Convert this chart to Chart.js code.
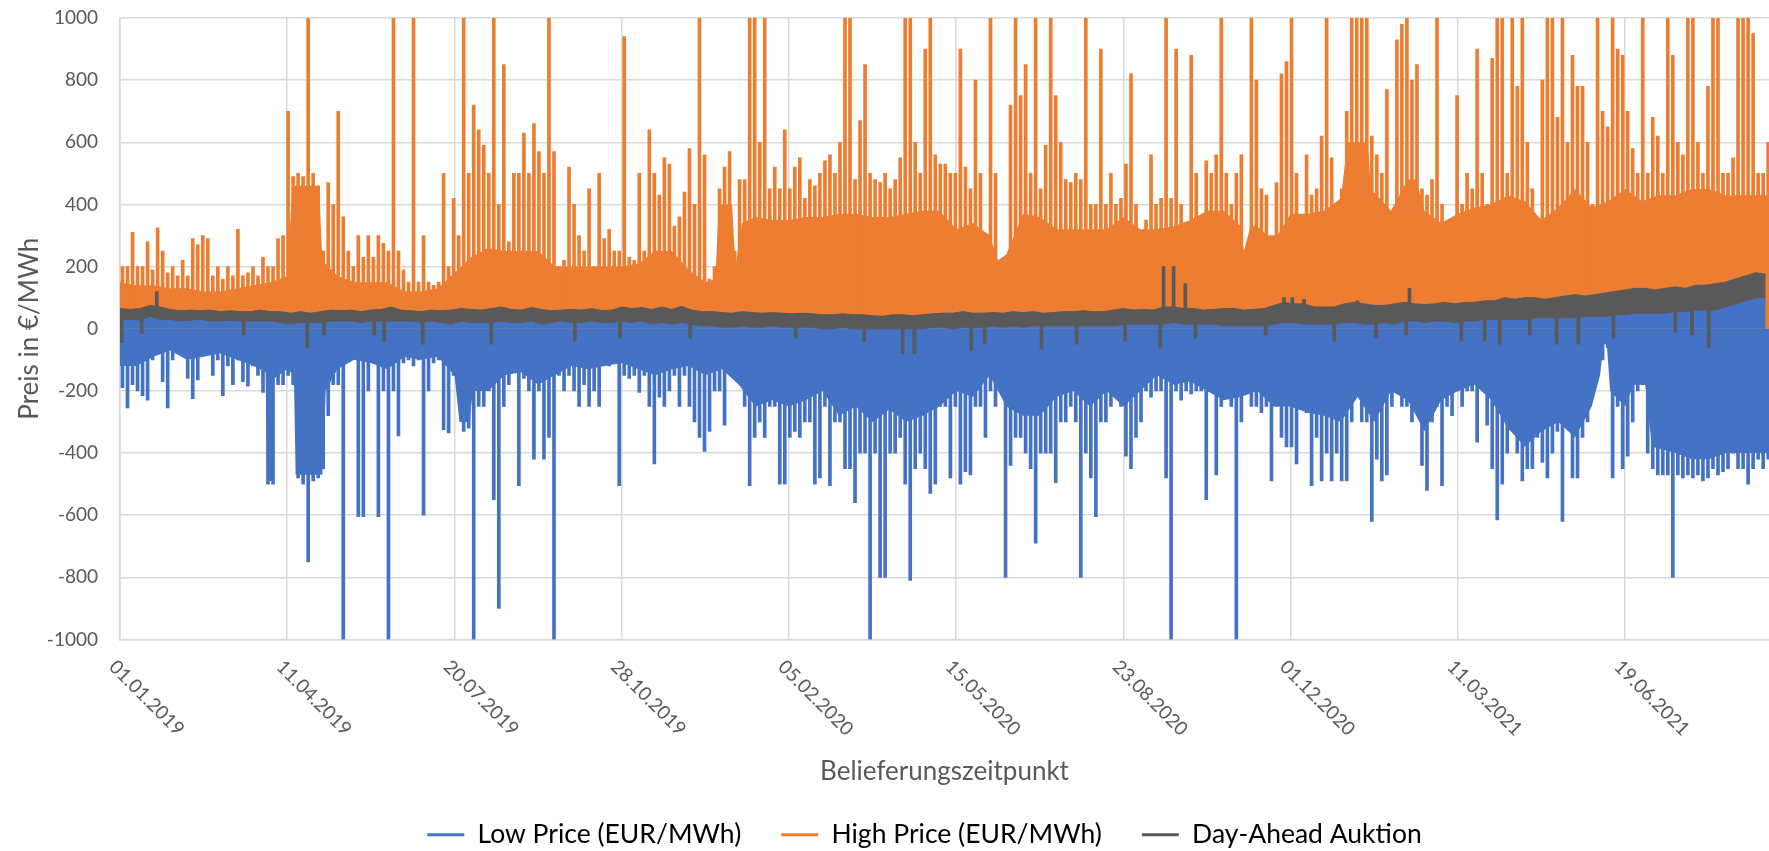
<!DOCTYPE html>
<html><head><meta charset="utf-8">
<script src="https://cdn.jsdelivr.net/npm/chart.js@4.4.1/dist/chart.umd.min.js"></script>
<style>html,body{margin:0;padding:0;background:#fff;}#wrap{width:1769px;height:851px;}</style>
</head><body><div id="wrap"><canvas id="c" width="1769" height="851"></canvas></div>
<script>
// ---- x axis (days since 01.01.2019) ----
const tickDays = [0, 100, 200, 300, 400, 500, 600, 700, 800, 900];
const tickLabels = ['01.01.2019','11.04.2019','20.07.2019','28.10.2019','05.02.2020','15.05.2020','23.08.2020','01.12.2020','11.03.2021','19.06.2021'];
const seriesNames = ['Low Price (EUR/MWh)', 'High Price (EUR/MWh)', 'Day-Ahead Auktion'];
const xTitle = 'Belieferungszeitpunkt';
const yTitle = 'Preis in €/MWh';

// sampling intervals of the bucket arrays below (days)
const SPIKE_STEP = 3, BAND_STEP = 6;

// High Price: maximum per 3-day bucket
const highSpikes = [
200,200,310,200,200,280,190,325,250,180,
200,170,220,170,290,270,300,290,170,200,
160,200,170,320,170,180,200,170,230,200,
200,290,300,700,490,500,490,1000,500,460,
250,470,400,700,360,250,200,300,230,300,
230,300,275,250,1000,250,190,150,1000,150,
300,150,140,150,500,200,420,300,1000,500,
720,640,590,500,1000,400,850,280,500,500,
630,500,660,570,500,1000,570,200,220,520,
400,300,250,450,200,500,290,320,250,250,
940,230,220,500,250,640,500,430,550,530,
330,360,440,580,400,1000,560,160,200,450,
520,570,250,480,480,1000,1000,600,1000,450,
520,450,640,450,520,550,420,480,460,500,
540,560,500,600,1000,1000,480,670,850,500,
480,470,500,450,480,550,1000,1000,600,500,
900,1000,560,530,530,500,500,900,520,450,
800,500,250,1000,500,220,230,720,1000,750,
850,500,1000,450,590,1000,750,600,480,470,
500,480,1000,400,400,900,400,500,400,420,
530,820,400,300,350,560,400,420,1000,420,
900,400,300,880,500,350,540,500,560,1000,
500,400,500,560,250,1000,800,450,430,300,
470,820,860,1000,500,300,560,430,450,620,
1000,550,400,450,700,1000,1000,1000,1000,620,
560,500,770,330,930,980,1000,800,850,450,
430,480,1000,400,300,350,750,400,500,450,
900,500,400,870,1000,1000,500,1000,780,1000,
600,450,300,800,1000,1000,680,1000,600,880,
780,780,600,400,1000,700,650,1000,900,880,
700,580,500,1000,500,680,620,500,1000,880,
600,560,1000,1000,600,500,780,1000,1000,500,
500,550,1000,1000,1000,950,500,500,600];

// Low Price: minimum per 3-day bucket
const lowSpikes = [
-190,-255,-180,-200,-215,-230,-100,-60,-170,-255,
-100,-60,-50,-160,-225,-165,-70,-60,-150,-100,
-215,-120,-180,-100,-170,-185,-120,-150,-205,-500,
-500,-180,-180,-150,-180,-480,-500,-750,-490,-480,
-450,-280,-180,-180,-1000,-100,-95,-605,-605,-200,
-110,-605,-200,-1000,-200,-345,-110,-100,-120,-100,
-600,-200,-110,-100,-325,-335,-150,-200,-330,-320,
-1000,-250,-250,-200,-550,-900,-250,-180,-100,-505,
-160,-200,-420,-200,-420,-350,-1000,-150,-200,-150,
-200,-250,-180,-250,-200,-250,-100,-120,-100,-505,
-150,-160,-150,-205,-150,-250,-435,-220,-250,-200,
-150,-250,-150,-250,-300,-350,-395,-330,-200,-200,
-310,-120,-100,-150,-250,-505,-350,-300,-350,-250,
-250,-500,-500,-350,-330,-350,-300,-300,-500,-480,
-250,-505,-300,-300,-450,-450,-560,-400,-400,-1000,
-400,-800,-800,-400,-400,-350,-500,-810,-450,-400,
-450,-530,-500,-250,-250,-480,-250,-500,-460,-470,
-250,-250,-350,-200,-250,-200,-800,-440,-350,-350,
-400,-450,-690,-400,-400,-400,-495,-300,-300,-250,
-300,-800,-400,-480,-605,-300,-300,-250,-200,-250,
-410,-450,-350,-300,-200,-220,-200,-200,-480,-1000,
-200,-230,-200,-210,-200,-200,-550,-200,-470,-250,
-220,-250,-1000,-300,-200,-250,-250,-270,-250,-490,
-250,-350,-380,-380,-435,-250,-270,-505,-350,-490,
-400,-490,-400,-490,-490,-300,-200,-300,-300,-620,
-420,-490,-470,-250,-200,-250,-250,-300,-250,-440,
-520,-300,-250,-505,-250,-280,-200,-250,-200,-200,
-365,-180,-310,-450,-615,-500,-400,-300,-400,-490,
-450,-450,-350,-430,-480,-400,-330,-620,-300,-480,
-480,-350,-300,-200,-150,-100,-60,-480,-250,-450,
-410,-300,-200,-180,-400,-450,-470,-470,-470,-800,
-470,-480,-470,-480,-470,-490,-480,-450,-470,-460,
-450,-400,-450,-450,-500,-450,-420,-450,-420];

// dense body of the High Price band (day, value)
const highMassDays = [0,10,20,30,40,50,60,70,80,90,100,103,119,121,130,140,150,160,170,180,190,200,210,220,230,240,250,260,270,280,290,300,310,320,330,340,350,356,358,366,368,372,380,390,400,410,420,430,440,450,460,470,480,490,500,510,520,525,530,540,550,560,570,580,590,600,610,620,630,640,650,660,670,672,676,680,686,692,700,710,720,730,734,746,748,760,770,775,780,790,800,810,820,830,840,850,860,870,880,890,900,910,920,930,940,950,960,970,980,990];
const highMassValues = [150,140,140,130,130,120,120,130,140,150,170,460,460,220,170,150,150,150,120,120,130,180,230,260,250,250,250,200,200,200,200,200,210,250,250,190,150,160,400,400,200,340,360,350,350,360,360,370,370,360,360,370,380,380,320,340,300,220,240,370,360,320,320,320,320,360,320,320,330,350,380,380,330,250,330,330,300,300,370,370,380,420,600,600,450,380,480,480,380,340,370,390,400,430,410,350,390,450,390,410,450,410,430,430,450,450,430,430,430,430];
// dense body of the Low Price band (day, value)
const lowMassDays = [0,10,20,30,40,50,60,70,80,87,88,91,92,100,104,105,121,123,130,140,150,160,170,180,190,200,203,209,211,220,230,240,250,260,270,280,290,300,310,320,330,340,350,360,370,380,390,400,410,420,430,440,450,460,470,480,490,500,510,520,530,540,550,560,570,580,590,600,610,620,630,640,650,660,670,680,690,700,710,720,730,740,750,760,770,780,790,800,810,820,830,840,850,860,870,880,885,887,889,891,900,905,912,916,930,940,950,960,970,980,990];
const lowMassValues = [-120,-120,-90,-70,-100,-90,-80,-100,-120,-140,-490,-490,-160,-130,-150,-470,-470,-200,-130,-100,-110,-130,-90,-100,-90,-150,-300,-300,-200,-200,-150,-140,-180,-150,-120,-130,-120,-110,-130,-150,-130,-120,-150,-130,-180,-250,-230,-250,-230,-200,-280,-250,-300,-260,-300,-280,-250,-200,-220,-150,-250,-280,-280,-220,-200,-250,-200,-250,-200,-150,-180,-170,-200,-230,-220,-200,-250,-250,-270,-280,-300,-220,-300,-200,-230,-330,-230,-200,-180,-230,-320,-380,-330,-300,-350,-250,-150,-50,-50,-200,-250,-180,-180,-380,-400,-420,-420,-400,-400,-400,-400];

// Day-Ahead Auktion: usual range per 6 days
const dayAheadHigh = [
65,62,65,75,70,62,58,60,58,60,
55,58,55,55,60,55,55,50,55,50,
55,60,58,60,55,60,62,70,60,58,
55,60,58,60,65,62,60,65,70,62,
60,68,62,58,60,62,60,65,58,60,
70,65,68,62,70,62,72,60,55,55,
52,50,55,52,50,52,50,48,50,48,
45,45,48,45,45,42,40,45,45,42,
45,48,50,50,55,50,50,52,50,55,
52,55,50,52,55,55,58,55,55,60,
65,60,62,60,70,70,65,65,60,62,
65,65,60,62,65,75,85,80,80,70,
70,70,80,85,80,75,75,80,85,80,
78,80,85,80,85,85,90,90,100,95,
100,100,95,100,105,110,105,110,115,120,
125,130,130,125,130,135,130,140,140,145,
150,160,170,180,175];
const dayAheadLow = [
30,30,28,40,30,30,25,28,30,25,
25,28,25,25,25,25,20,15,20,20,
20,25,25,25,20,25,25,25,25,25,
20,25,20,15,25,20,20,20,25,20,
20,25,15,20,25,20,20,25,20,20,
25,20,25,15,20,15,20,15,10,10,
5,5,10,5,5,10,5,5,5,5,
0,0,5,0,0,0,0,0,0,0,
0,5,5,0,5,5,5,10,5,10,
5,10,10,10,10,10,10,10,10,10,
15,15,15,15,15,20,15,15,15,15,
10,10,10,10,10,15,20,20,15,15,
15,15,20,20,15,15,20,15,25,25,
20,25,25,20,25,25,30,30,30,30,
30,35,35,35,35,35,40,40,40,45,
45,50,50,50,50,55,55,60,60,60,
70,80,90,100,100];
// single-hour outliers of the Day-Ahead price
const dayAheadDipDays = [1,13,74,112,122,152,158,181,222,272,299,341,404,445,468,475,509,517,551,572,601,622,643,685,726,751,769,802,816,825,843,859,872,893,930,940,950];
const dayAheadDipValues = [-45,-15,-20,-60,-20,-20,-40,-50,-50,-40,-30,-30,-30,-40,-80,-80,-70,-50,-65,-50,-40,-60,-30,-20,-40,-30,-20,-40,-40,-50,-20,-50,-50,-30,-10,-20,-60];
const dayAheadPeakDays = [22,624,630,637,696,701,708,740,771,797];
const dayAheadPeakValues = [120,200,200,145,100,100,95,90,130,80];

const BLUE = '#4472C4', ORANGE = '#ED7D31', GREY = '#595959', TXT = '#595959', GRID = '#d9d9d9';

Chart.defaults.font.family = 'Lato';
Chart.defaults.color = TXT;

const bandMid = d => { const j = Math.min(dayAheadLow.length - 1, Math.floor(d / BAND_STEP)); return (dayAheadLow[j] + dayAheadHigh[j]) / 2; };

const datasets = [
  { type: 'bar', label: seriesNames[0], data: lowSpikes.map((v, i) => ({x: i * SPIKE_STEP + SPIKE_STEP / 2, y: [v, 0]})),
    backgroundColor: BLUE, borderWidth: 0, barThickness: 3, grouped: false, order: 1 },
  { type: 'line', label: 'lowMass', data: lowMassDays.map((d, k) => ({x: d, y: lowMassValues[k]})),
    borderWidth: 0, pointRadius: 0, fill: 'origin', backgroundColor: BLUE, borderColor: BLUE, order: 1 },
  { type: 'line', label: 'lowCap', data: dayAheadLow.map((v, j) => ({x: j * BAND_STEP, y: v})),
    borderWidth: 0, pointRadius: 0, fill: 'origin', backgroundColor: BLUE, borderColor: BLUE, order: 1 },
  { type: 'bar', label: seriesNames[1], data: highSpikes.map((v, i) => ({x: i * SPIKE_STEP + SPIKE_STEP / 2, y: [0, v]})),
    backgroundColor: ORANGE, borderWidth: 0, barThickness: 3, grouped: false, order: 2 },
  { type: 'line', label: 'highMass', data: highMassDays.map((d, k) => ({x: d, y: highMassValues[k]})),
    borderWidth: 0, pointRadius: 0, fill: 'origin', backgroundColor: ORANGE, borderColor: ORANGE, order: 2 },
  { type: 'line', label: seriesNames[2], data: dayAheadHigh.map((v, j) => ({x: j * BAND_STEP, y: v})),
    borderWidth: 1, borderColor: GREY, pointRadius: 0, fill: '+1', backgroundColor: GREY, order: 0 },
  { type: 'line', label: 'daLow', data: dayAheadLow.map((v, j) => ({x: j * BAND_STEP, y: v})),
    borderWidth: 1, borderColor: GREY, pointRadius: 0, fill: false, order: 0 },
  { type: 'bar', label: 'daOut', data: dayAheadDipDays.map((d, i) => ({x: d, y: [dayAheadDipValues[i], bandMid(d)]}))
      .concat(dayAheadPeakDays.map((d, i) => ({x: d, y: [bandMid(d), dayAheadPeakValues[i]]}))).sort((a, b) => a.x - b.x),
    backgroundColor: GREY, borderWidth: 0, barThickness: 3, grouped: false, order: 0 }
];

const legendColors = [BLUE, ORANGE, GREY];

const textPlugin = {
  id: 'texts',
  afterLayout(chart) { if (chart.legend) chart.legend.left += 80; },
  afterDraw(chart) {
    const ctx = chart.ctx, xs = chart.scales.x, ca = chart.chartArea;
    ctx.save();
    ctx.fillStyle = TXT;
    ctx.font = '19px Lato';
    ctx.textAlign = 'left';
    ctx.textBaseline = 'top';
    tickDays.forEach((d, i) => {
      const px = xs.getPixelForValue(d);
      ctx.save();
      ctx.translate(px - 1, 657);
      ctx.rotate(Math.PI / 4);
      ctx.fillText(tickLabels[i], 0, 0);
      ctx.restore();
    });
    ctx.font = '26px Lato';
    ctx.textAlign = 'center';
    ctx.textBaseline = 'middle';
    ctx.fillText(xTitle, (ca.left + ca.right) / 2, 772);
    ctx.restore();
  }
};

new Chart(document.getElementById('c'), {
  type: 'line',
  data: { datasets },
  options: {
    responsive: false, animation: false, devicePixelRatio: 1, events: [],
    layout: { padding: { left: 0, right: 0, top: 18, bottom: -7 } },
    plugins: {
      tooltip: { enabled: false },
      legend: {
        position: 'bottom',
        labels: {
          font: { size: 26.5, family: 'Lato' }, color: TXT, boxWidth: 37, boxHeight: 3, padding: 40,
          generateLabels: () => seriesNames.map((t, i) => ({ text: t, fillStyle: legendColors[i], strokeStyle: legendColors[i], lineWidth: 0, hidden: false, datasetIndex: i }))
        }
      }
    },
    scales: {
      x: {
        type: 'linear', min: 0, max: 986, offset: false,
        afterFit: s => { s.height = 142; },
        ticks: { display: false, stepSize: 100 },
        afterBuildTicks: s => { s.ticks = tickDays.map(v => ({ value: v })); },
        grid: { color: GRID, lineWidth: 1.5, drawTicks: false, offset: false },
        border: { color: GRID, width: 1.5 }
      },
      y: {
        min: -1000, max: 1000,
        afterFit: s => { s.width = 120; },
        ticks: { stepSize: 200, padding: 3, font: { size: 19, family: 'Lato' }, color: TXT, callback: v => String(v) },
        grid: { color: GRID, lineWidth: 1.5, drawTicks: true, tickLength: 19, tickColor: 'rgba(0,0,0,0)' },
        border: { color: GRID, width: 1.5 },
        title: { display: true, text: yTitle, font: { size: 26, family: 'Lato' }, color: TXT, padding: { top: 14, bottom: 0 } }
      }
    }
  },
  plugins: [textPlugin]
});
</script></body></html>
